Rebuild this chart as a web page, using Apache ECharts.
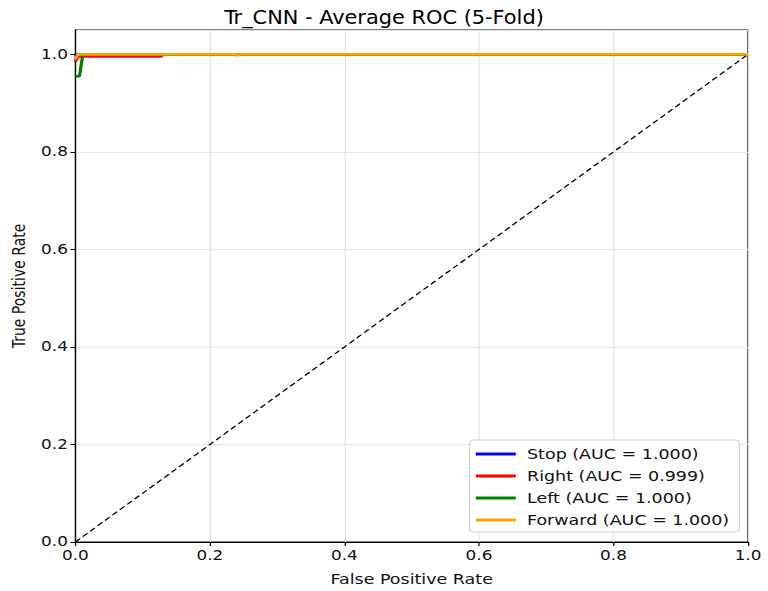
<!DOCTYPE html>
<html>
<head>
<meta charset="utf-8">
<script src="https://cdn.jsdelivr.net/npm/echarts@6/dist/echarts.min.js"></script>
<style>
  html, body { margin: 0; padding: 0; background: #fff; overflow: hidden; }
  /* the reference picture is stretched sideways, so draw narrow and stretch */
  #chart { width: 615px; height: 591px; transform: scaleX(1.2488); transform-origin: 0 0; }
</style>
</head>
<body>
<div id="chart"></div>
<script>
// averaged ROC curves
var stopFpr = [0, 0.003, 1];
var stopTpr = [0.995, 1.0, 1.0];
var rightFpr = [0, 0.004, 0.128, 0.129, 1];
var rightTpr = [0.985, 0.996, 0.996, 1.0, 1.0];
var leftFpr = [0, 0.006, 0.011, 1];
var leftTpr = [0.955, 0.955, 1.0, 1.0];
var fwdFpr = [0, 0.004, 0.239, 0.241, 0.243, 1];
var fwdTpr = [0.99, 1.0, 1.0, 0.997, 1.0, 1.0];
var chanceFpr = [0, 1];
var chanceTpr = [0, 1];

var names = ["Stop (AUC = 1.000)", "Right (AUC = 0.999)", "Left (AUC = 1.000)", "Forward (AUC = 1.000)"];
var colors = ["#0000ff", "#ff0000", "#008000", "#ffa500"];

function pairs(xs, ys) {
    return xs.map(function (x, i) { return [x, ys[i]]; });
}

var myChart = echarts.init(document.getElementById("chart"), null, { renderer: "svg" });
var font = "DejaVu Sans";

var curves = [
    pairs(stopFpr, stopTpr),
    pairs(rightFpr, rightTpr),
    pairs(leftFpr, leftTpr),
    pairs(fwdFpr, fwdTpr)
];

var series = curves.map(function (d, i) {
    return {
        name: names[i],
        type: "line",
        data: d,
        showSymbol: false,
        symbol: "none",
        lineStyle: { color: colors[i], width: 2.6 },
        itemStyle: { color: colors[i] },
        z: 3 + i
    };
});
series.push({
    name: "chance",
    type: "line",
    data: pairs(chanceFpr, chanceTpr),
    symbol: "none",
    lineStyle: { color: "#000", width: 1.2, type: [5, 3] },
    z: 2
});

var option = {
    animation: false,
    backgroundColor: "#fff",
    title: {
        text: "Tr_CNN - Average ROC (5-Fold)",
        left: "center",
        top: 3,
        textStyle: { fontFamily: "DejaVu Sans Condensed, DejaVu Sans", fontSize: 18.6, fontWeight: "normal", color: "#000" }
    },
    legend: {
        data: names.map(function (n, i) { return { name: n, itemStyle: { color: colors[i] } }; }),
        orient: "vertical",
        right: 23,
        bottom: 59,
        icon: "rect",
        itemWidth: 32,
        itemHeight: 3,
        itemGap: 8,
        padding: [7, 8, 5, 5],
        backgroundColor: "#fff",
        borderColor: "#d0d0d0",
        borderWidth: 1,
        borderRadius: 3,
        textStyle: { fontFamily: font, fontSize: 14, color: "#111", padding: [0, 0, 0, 4] }
    },
    grid: {
        left: 55.5, right: 16, top: 30, bottom: 49,
        show: true, borderColor: "#000", borderWidth: 1
    },
    xAxis: {
        type: "value",
        min: 0, max: 1, interval: 0.2,
        name: "False Positive Rate",
        nameLocation: "middle",
        nameGap: 30,
        nameTextStyle: { fontFamily: font, fontSize: 14, color: "#111" },
        axisLine: { show: true, onZero: false, lineStyle: { color: "#000" } },
        axisTick: { show: true, length: 4, lineStyle: { color: "#000" } },
        axisLabel: {
            fontFamily: font, fontSize: 13.5, color: "#111", margin: 7,
            formatter: function (v) { return v.toFixed(1); }
        },
        splitLine: { show: true, lineStyle: { color: "#e6e6e6", width: 1 } }
    },
    yAxis: {
        type: "value",
        min: 0, max: 1.05, interval: 0.2,
        name: "True Positive Rate",
        nameLocation: "middle",
        nameGap: 38,
        nameTextStyle: { fontFamily: font, fontSize: 14, color: "#111", lineHeight: 14 },
        axisLine: { show: true, onZero: false, lineStyle: { color: "#000" } },
        axisTick: { show: true, length: 4, lineStyle: { color: "#000" } },
        axisLabel: {
            fontFamily: font, fontSize: 13.5, color: "#111", margin: 6,
            showMaxLabel: false,
            formatter: function (v) { return v > 1.001 ? "" : v.toFixed(1); }
        },
        splitLine: { show: true, lineStyle: { color: "#e6e6e6", width: 1 } }
    },
    series: series
};
myChart.setOption(option);
</script>
</body>
</html>
